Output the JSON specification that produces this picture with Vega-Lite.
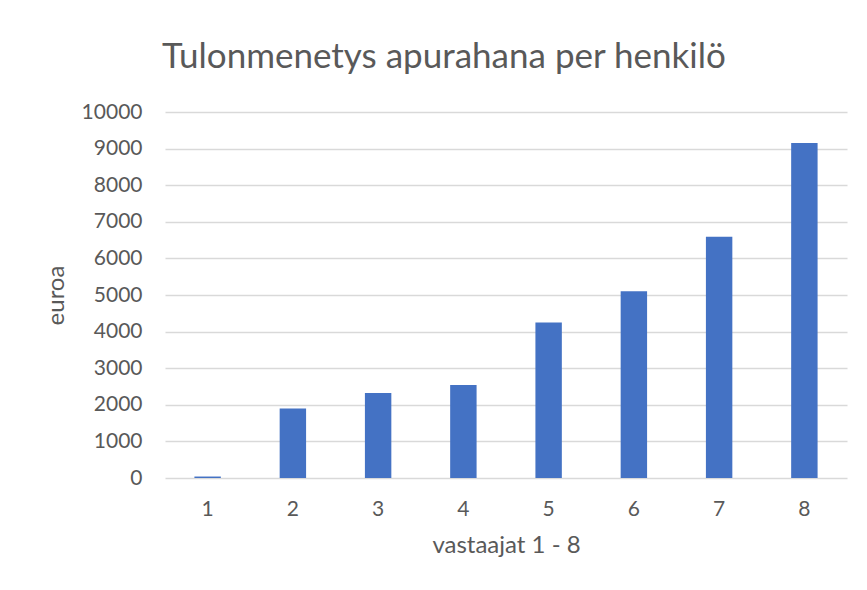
{
  "$schema": "https://vega.github.io/schema/vega-lite/v6.json",
  "width": 682,
  "height": 366,
  "autosize": {"type": "none"},
  "padding": {"left": 165, "top": 112, "right": 20, "bottom": 112},
  "background": "white",
  "title": {
    "text": "Tulonmenetys apurahana per henkilö",
    "anchor": "start",
    "frame": "group",
    "baseline": "alphabetic",
    "offset": 0,
    "dx": -3,
    "dy": 2,
    "font": "Lato",
    "fontSize": 35,
    "fontWeight": "normal",
    "color": "#595959"
  },
  "data": {
    "values": [
      {"vastaaja": "1", "euroa": 40},
      {"vastaaja": "2", "euroa": 1900},
      {"vastaaja": "3", "euroa": 2320},
      {"vastaaja": "4", "euroa": 2540},
      {"vastaaja": "5", "euroa": 4250},
      {"vastaaja": "6", "euroa": 5100},
      {"vastaaja": "7", "euroa": 6590},
      {"vastaaja": "8", "euroa": 9150}
    ]
  },
  "mark": {"type": "bar", "color": "#4472C4"},
  "encoding": {
    "x": {
      "field": "vastaaja",
      "type": "ordinal",
      "title": "vastaajat 1 - 8",
      "scale": {"paddingInner": 0.69, "paddingOuter": 0.345},
      "axis": {
        "labelAngle": 0,
        "domain": false,
        "ticks": false,
        "tickSize": 0,
        "labelPadding": 20,
        "titlePadding": 14
      }
    },
    "y": {
      "field": "euroa",
      "type": "quantitative",
      "title": "euroa",
      "scale": {"domain": [0, 10000], "nice": false},
      "axis": {
        "values": [0, 1000, 2000, 3000, 4000, 5000, 6000, 7000, 8000, 9000, 10000],
        "format": "d",
        "domain": false,
        "ticks": false,
        "tickSize": 0,
        "labelPadding": 23,
        "titlePadding": 13
      }
    }
  },
  "config": {
    "view": {"stroke": null},
    "axis": {
      "labelFont": "Lato",
      "labelFontSize": 21,
      "labelColor": "#595959",
      "titleFont": "Lato",
      "titleFontSize": 24,
      "titleFontWeight": "normal",
      "titleColor": "#595959",
      "gridColor": "#d9d9d9",
      "gridWidth": 1.3
    }
  }
}
